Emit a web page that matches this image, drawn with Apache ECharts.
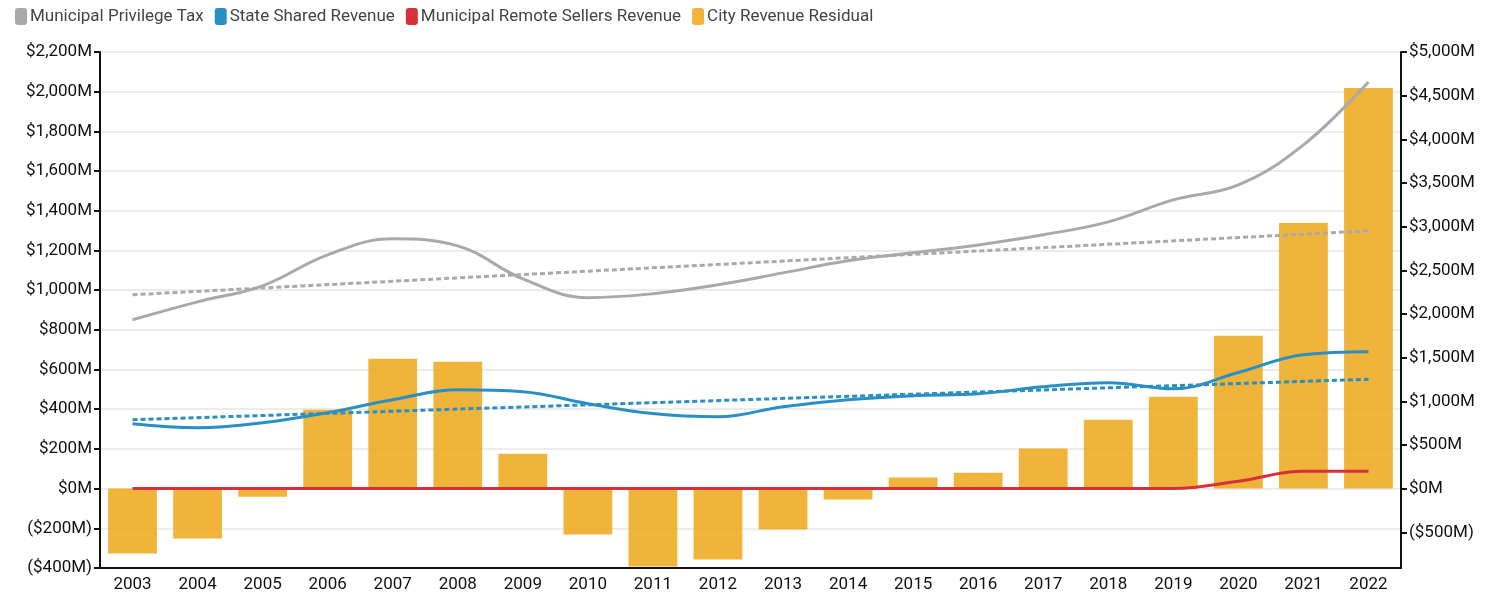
<!DOCTYPE html>
<html>
<head>
<meta charset="utf-8">
<script src="https://cdn.jsdelivr.net/npm/echarts@6/dist/echarts.min.js"></script>
<style>
  html, body { margin: 0; padding: 0; background: #fff; }
  #chart { width: 1489px; height: 600px; }
</style>
</head>
<body>
<div id="chart"></div>
<script>
const years = ['2003','2004','2005','2006','2007','2008','2009','2010','2011','2012',
               '2013','2014','2015','2016','2017','2018','2019','2020','2021','2022'];

// left axis, $M
const privilegeTax = [851, 941, 1022, 1178, 1259, 1223, 1057, 962, 982, 1027,
                      1087, 1148, 1188, 1228, 1279, 1344, 1455, 1530, 1732, 2049];
const stateShared = [327, 307, 332, 383, 448, 498, 488, 428, 378, 362,
                     413, 448, 468, 478, 513, 534, 503, 585, 675, 690];
const remoteSellers = [0, 0, 0, 0, 0, 0, 0, 0, 0, 0,
                       0, 0, 0, 0, 0, 0, 0, 37, 87, 87];
// trend lines (endpoints only)
const privilegeTrend = [977, null, null, null, null, null, null, null, null, null,
                        null, null, null, null, null, null, null, null, null, 1299];
const stateTrend = [347, null, null, null, null, null, null, null, null, null,
                    null, null, null, null, null, null, null, null, null, 551];

// right axis, $M
const residual = [-744, -572, -92, 904, 1487, 1453, 400, -526, -892, -812,
                  -469, -126, 126, 183, 458, 789, 1053, 1750, 3043, 4588];

const leftTicks = [-400, 2200, 200];
const rightLabels = [-500, 0, 500, 1000, 1500, 2000, 2500, 3000, 3500, 4000, 4500, 5000];

function money(v) {
  const s = '$' + Math.abs(v).toLocaleString('en-US') + 'M';
  return v < 0 ? '(' + s + ')' : s;
}

const GRAY = '#a9a9a9', BLUE = '#2a8fc4', RED = '#d6303a', GOLD = '#f0ac25';
const FONT = 'Roboto, "Noto Sans", sans-serif';

const chart = echarts.init(document.getElementById('chart'));

const axisCommon = {
  axisLine: { show: true, lineStyle: { color: '#111', width: 2 } },
  axisTick: { show: true, length: 6, lineStyle: { color: '#111', width: 2 } },
  axisLabel: { color: '#111', fontSize: 17, fontFamily: FONT, formatter: money, margin: 8 }
};

chart.setOption({
  animation: false,
  textStyle: { fontFamily: FONT },
  legend: {
    left: 10, top: 3,
    itemWidth: 12, itemHeight: 17, itemGap: 11,
    icon: 'roundRect',
    textStyle: { color: '#444', fontSize: 17, fontFamily: FONT, padding: [0, 0, 0, -2] },
    data: ['Municipal Privilege Tax', 'State Shared Revenue', 'Municipal Remote Sellers Revenue', 'City Revenue Residual']
  },
  grid: { left: 100, right: 88, top: 52, bottom: 32 },
  xAxis: {
    type: 'category',
    data: years,
    axisLine: { onZero: false, lineStyle: { color: '#111', width: 2 } },
    axisTick: { alignWithLabel: true, length: 6, lineStyle: { color: '#111', width: 2 } },
    axisLabel: { color: '#111', fontSize: 17, fontFamily: FONT, margin: 8 }
  },
  yAxis: [
    Object.assign({}, axisCommon, {
      type: 'value',
      min: leftTicks[0], max: leftTicks[1], interval: leftTicks[2],
      splitLine: { show: true, lineStyle: { color: '#ececec', width: 2 } }
    }),
    Object.assign({}, axisCommon, {
      type: 'value',
      position: 'right',
      min: -5000 * 400 / 2200, max: 5000,
      splitLine: { show: false },
      axisTick: { show: true, length: 6, customValues: rightLabels, lineStyle: { color: '#111', width: 2 } },
      axisLabel: { color: '#111', fontSize: 17, fontFamily: FONT, formatter: money, margin: 8, customValues: rightLabels }
    })
  ],
  series: [
    {
      name: 'City Revenue Residual', type: 'bar', yAxisIndex: 1,
      data: residual, barWidth: '75%',
      itemStyle: { color: GOLD, opacity: 0.9 }, z: 1
    },
    {
      name: 'Municipal Privilege Tax', type: 'line', data: privilegeTax,
      smooth: 0.4, showSymbol: false, lineStyle: { color: GRAY, width: 3 },
      itemStyle: { color: GRAY }, z: 3
    },
    {
      name: 'Municipal Privilege Tax trend', type: 'line', data: privilegeTrend, connectNulls: true,
      showSymbol: false, lineStyle: { color: GRAY, width: 3, type: [5, 3] }, z: 3
    },
    {
      name: 'State Shared Revenue', type: 'line', data: stateShared,
      smooth: 0.4, showSymbol: false, lineStyle: { color: BLUE, width: 3 },
      itemStyle: { color: BLUE }, z: 3
    },
    {
      name: 'State Shared Revenue trend', type: 'line', data: stateTrend, connectNulls: true,
      showSymbol: false, lineStyle: { color: BLUE, width: 3, type: [5, 3] }, z: 3
    },
    {
      name: 'Municipal Remote Sellers Revenue', type: 'line', data: remoteSellers,
      smooth: 0.4, showSymbol: false, lineStyle: { color: RED, width: 3 },
      itemStyle: { color: RED }, z: 4
    }
  ]
});

window.addEventListener('resize', function() { chart.resize(); });
</script>
</body>
</html>
